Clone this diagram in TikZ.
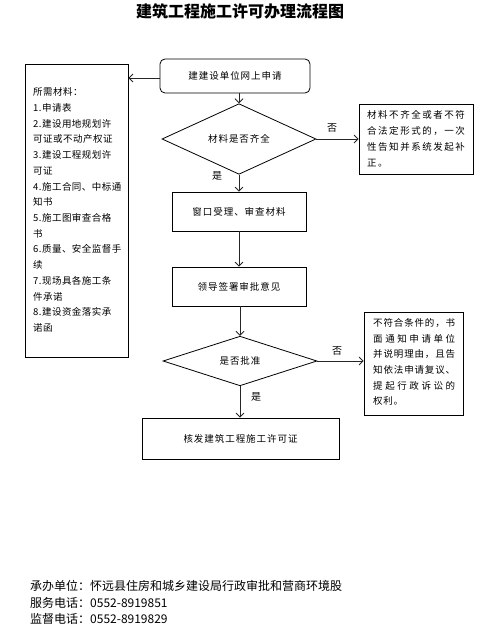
\documentclass[tikz,border=0pt]{standalone}
\usepackage{fontspec}
\setmainfont{Noto Sans CJK SC}
\newfontfamily\bxa[LetterSpace=10]{Noto Sans CJK SC}
\newfontfamily\bxl[LetterSpace=5]{Noto Sans CJK SC}
\newfontfamily\bxr[LetterSpace=16]{Noto Sans CJK SC}
\usetikzlibrary{arrows.meta,shapes.geometric}
\begin{document}
\begin{tikzpicture}[x=1pt,y=-1pt,
  box/.style={draw=black,line width=0.8pt,rectangle,inner sep=0pt,font=\bxa\fontsize{9.5}{12}\selectfont},
  dia/.style={draw=black,line width=0.8pt,diamond,inner sep=0pt,font=\bxa\fontsize{9.5}{12}\selectfont},
  conn/.style={draw=black!85,line width=0.8pt,-{Straight Barb[length=4pt,width=8pt]}},
  lbl/.style={font=\fontsize{10}{12}\selectfont,inner sep=0pt}]
\useasboundingbox (0,0) rectangle (494,628);
\node[font=\bfseries\fontsize{16}{18}\selectfont,inner sep=0pt] (title) at (240,11) {建筑工程施工许可办理流程图};

\node[box,rounded corners=5pt,minimum width=150pt,minimum height=34pt] (n1) at (235,76) {建建设单位网上申请};
\node[dia,minimum width=154pt,minimum height=46pt] (d1) at (239,139) {材料是否齐全};
\node[box,minimum width=134pt,minimum height=39pt] (b1) at (239,211.5) {窗口受理、审查材料};
\node[box,minimum width=134pt,minimum height=39pt] (b2) at (239,286.5) {领导签署审批意见};
\node[dia,minimum width=154pt,minimum height=45pt] (d2) at (240,361) {是否批准};
\node[box,minimum width=197pt,minimum height=41pt] (b3) at (240.5,438.5) {核发建筑工程施工许可证};

\node[box,minimum width=103pt,minimum height=293pt] (lb) at (76.5,210.5) {};
\node[anchor=west,align=left,inner sep=0pt,font=\bxl\fontsize{9.5}{15.73}\selectfont] (lbt) at (33,210) {所需材料：\\1.申请表\\2.建设用地规划许\\可证或不动产权证\\3.建设工程规划许\\可证\\4.施工合同、中标通\\知书\\5.施工图审查合格\\书\\6.质量、安全监督手\\续\\7.现场具各施工条\\件承诺\\8.建设资金落实承\\诺函};

\node[box,minimum width=114pt,minimum height=70pt] (r1) at (416,139) {};
\node[anchor=west,align=left,inner sep=0pt,font=\bxr\fontsize{9.5}{16}\selectfont] (r1t) at (367,139) {材料不齐全或者不符\\合法定形式的，一次\\性告知并系统发起补\\正。};

\node[box,minimum width=99pt,minimum height=103pt] (r2) at (413.5,363.5) {};
\node[anchor=west,align=left,inner sep=0pt,font=\fontsize{9.5}{15.6}\selectfont] (r2t) at (373,362) {%
\makebox[82pt][s]{不\hfil 符\hfil 合\hfil 条\hfil 件\hfil 的\hfil ，\hfil 书}\\
\makebox[82pt][s]{面\hfil 通\hfil 知\hfil 申\hfil 请\hfil 单\hfil 位}\\
\makebox[82pt][s]{并\hfil 说\hfil 明\hfil 理\hfil 由\hfil ，\hfil 且\hfil 告}\\
\makebox[82pt][s]{知\hfil 依\hfil 法\hfil 申\hfil 请\hfil 复\hfil 议\hfil 、}\\
\makebox[82pt][s]{提\hfil 起\hfil 行\hfil 政\hfil 诉\hfil 讼\hfil 的}\\
\makebox[30pt][s]{权\hfil 利\hfil 。}};

\draw[conn] (n1.south -| d1.north) -- (d1.north);
\draw[conn] (d1.south) -- (b1.north);
\draw[conn] (b1.south) -- (b2.north);
\draw[conn] (b2.south -| d2.north) -- (d2.north);
\draw[conn] (d2.south) -- (d2.south |- b3.north);
\draw[conn] (d1.east) -- (d1.east -| r1.west);
\draw[conn] (d2.east) -- (d2.east -| r2.west);
\draw[conn] (n1.west |- 0,78) -- (lb.east |- 0,78);

\node[lbl] (no1) at (332,128) {否};
\node[lbl] (yes1) at (217,176) {是};
\node[lbl] (no2) at (337,351) {否};
\node[lbl] (yes2) at (256,397) {是};

\node[anchor=west,inner sep=0pt,font=\fontsize{12}{14}\selectfont] (f1) at (30,586) {承办单位：怀远县住房和城乡建设局行政审批和营商环境股};
\node[anchor=west,inner sep=0pt,font=\fontsize{12}{14}\selectfont] (f2) at (30,603) {服务电话：0552-8919851};
\node[anchor=west,inner sep=0pt,font=\fontsize{12}{14}\selectfont] (f3) at (30,619) {监督电话：0552-8919829};
\end{tikzpicture}
\end{document}
